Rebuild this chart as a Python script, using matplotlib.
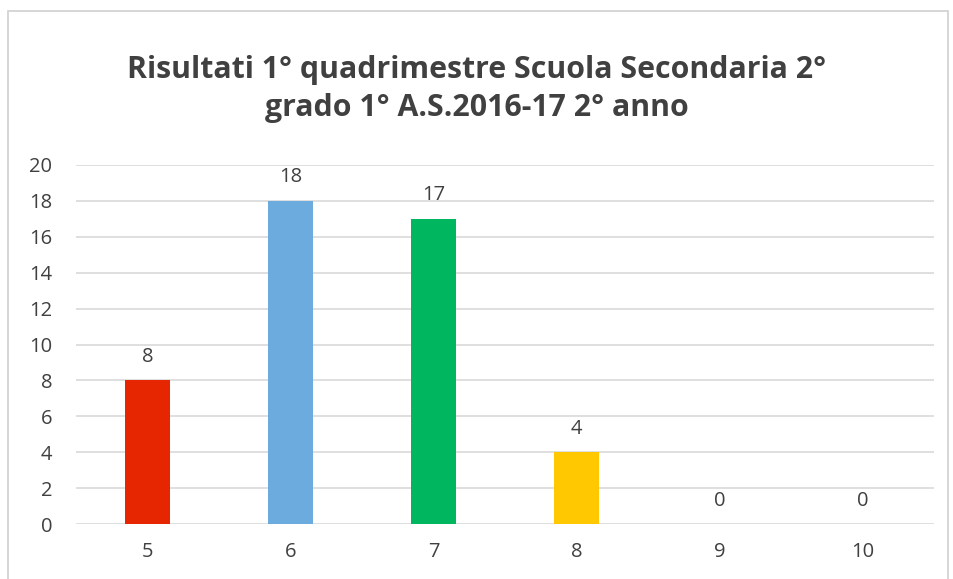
import numpy as np
import matplotlib.pyplot as plt
from matplotlib.patches import Rectangle

# voti e numero di studenti
voti = ['5', '6', '7', '8', '9', '10']
studenti = [8, 18, 17, 4, 0, 0]
colori = ['#E52600', '#6CABDD', '#00B65E', '#FFC800', '#A5A5A5', '#4472C4']
yticks = list(range(0, 21, 2))

plt.rcParams['font.family'] = ['Open Sans', 'DejaVu Sans']
testo = '#404040'

fig = plt.figure(figsize=(9.54, 5.79), dpi=100)
ax = fig.add_axes([76 / 954, 55 / 579, 858 / 954, 359 / 579])

x = np.arange(len(voti))
bars = ax.bar(x, studenti, width=0.315, color=colori, zorder=3)

for xi, v in zip(x, studenti):
    ax.text(xi, v + 0.75, str(v), ha='center', va='bottom', fontsize=14.5, color=testo)

ax.set_xlim(-0.5, len(voti) - 0.5)
ax.set_ylim(0, 20)
ax.set_yticks(yticks)
ax.set_xticks(x)
ax.set_xticklabels(voti)
ax.tick_params(axis='both', length=0, labelsize=14.5, labelcolor=testo)
ax.tick_params(axis='x', pad=13)
ax.tick_params(axis='y', pad=17)
ax.yaxis.grid(True, color='#D9D9D9', linewidth=1.2, zorder=0)
for s in ax.spines.values():
    s.set_visible(False)

fig.text(0.5, 1 - 89 / 579,
         'Risultati 1° quadrimestre Scuola Secondaria 2°\ngrado 1° A.S.2016-17 2° anno',
         ha='center', va='center', fontsize=21.8, fontweight='bold', color=testo,
         linespacing=1.33)

# cornice del grafico
fig.patches.append(Rectangle((8 / 954, -0.01), 940 / 954, 1 - 11 / 579 + 0.01,
                             transform=fig.transFigure, fill=False,
                             edgecolor='#D0D0D0', linewidth=1.2))

fig.savefig('out.png', dpi=100)
